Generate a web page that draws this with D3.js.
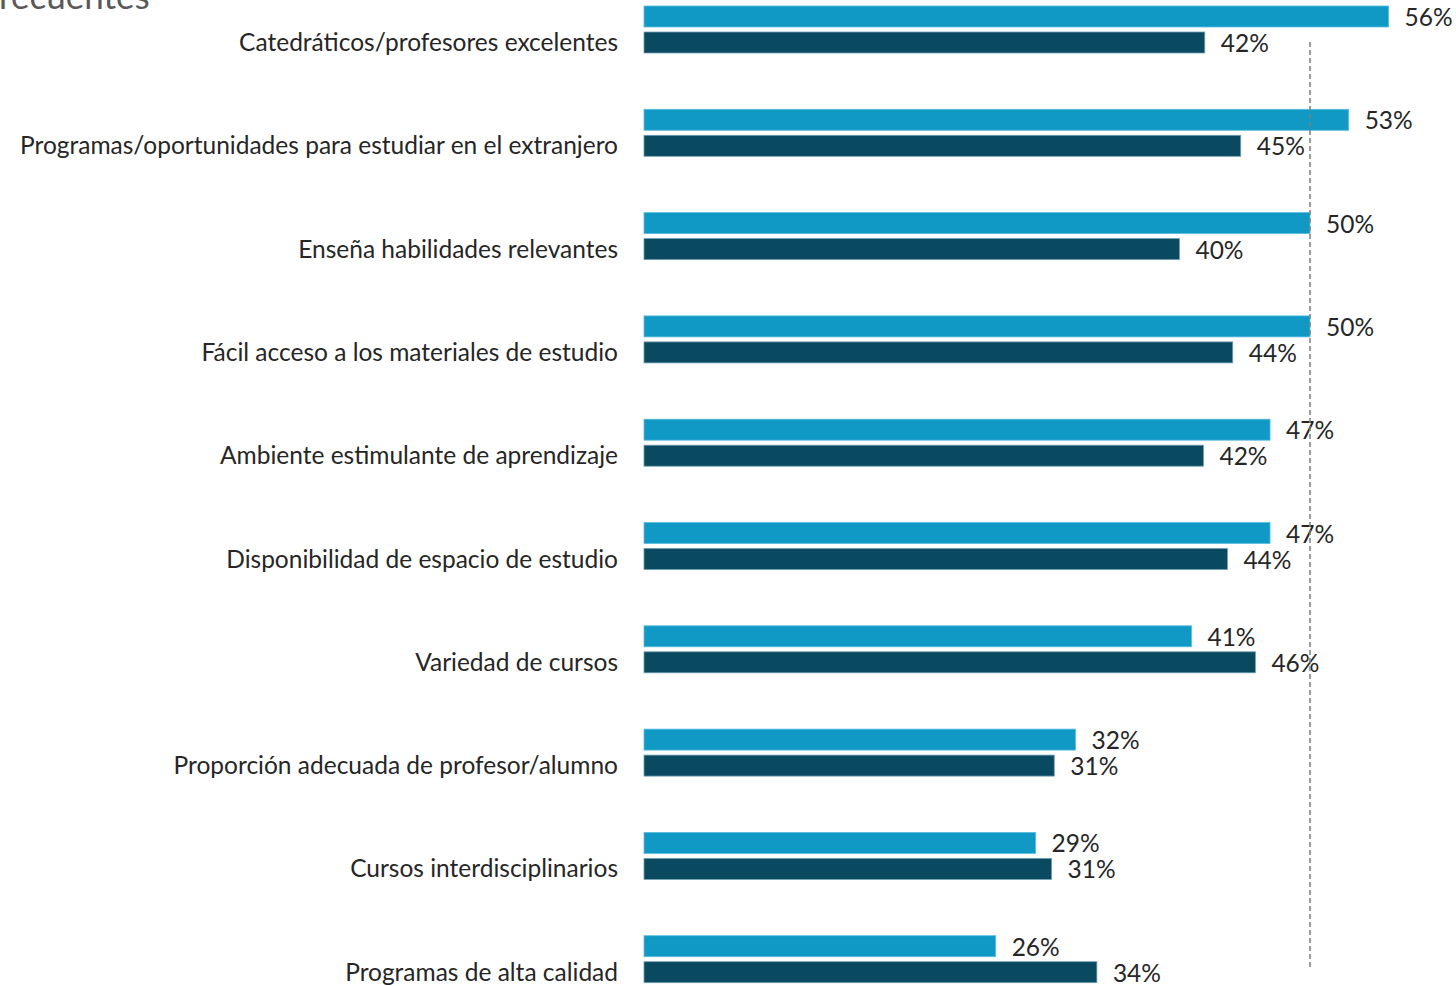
<!DOCTYPE html>
<html><head><meta charset="utf-8">
<script src="https://cdn.jsdelivr.net/npm/d3@7"></script>
<style>body{margin:0;background:#fff;} svg{display:block;}</style>
</head><body>
<svg id="c" width="1456" height="986"></svg>
<script>
const categories = [
  "Catedráticos/profesores excelentes",
  "Programas/oportunidades para estudiar en el extranjero",
  "Enseña habilidades relevantes",
  "Fácil acceso a los materiales de estudio",
  "Ambiente estimulante de aprendizaje",
  "Disponibilidad de espacio de estudio",
  "Variedad de cursos",
  "Proporción adecuada de profesor/alumno",
  "Cursos interdisciplinarios",
  "Programas de alta calidad"
];
// values; labels show the rounded percentages
const seriesA = [55.9, 52.9, 50.0, 50.0, 47.0, 47.0, 41.1, 32.4, 29.4, 26.4];
const seriesB = [42.1, 44.8, 40.2, 44.2, 42.0, 43.8, 45.9, 30.8, 30.6, 34.0];
const referenceValue = 50;
const titleText = "recuentes";

const svg = d3.select("#c");
const x = d3.scaleLinear().domain([0, 100]).range([644, 644 + 1332]);
const y = d3.scaleBand().domain(categories).range([6, 6 + 103.3 * 10]).paddingInner(0).paddingOuter(0);
const barH = 21, gap = 5;
const fontFam = "Lato, 'Open Sans', sans-serif";
const fs = 24.5;
const fmt = v => Math.round(v) + "%";

svg.append("text").attr("x", -1).attr("y", 9).attr("font-family", fontFam)
  .attr("font-size", 35).attr("fill", "#595959").text(titleText);

const g = svg.append("g");
categories.forEach((c, i) => {
  const y0 = y(c);
  g.append("rect").attr("x", x(0)).attr("y", y0).attr("width", x(seriesA[i]) - x(0)).attr("height", barH)
    .attr("fill", "#1199c6").attr("stroke", "#5bbde0").attr("stroke-width", 0.8);
  g.append("rect").attr("x", x(0)).attr("y", y0 + barH + gap).attr("width", x(seriesB[i]) - x(0)).attr("height", barH)
    .attr("fill", "#0a4a60").attr("stroke", "#6f9fb3").attr("stroke-width", 0.8);
  g.append("text").attr("x", x(seriesA[i]) + 16).attr("y", y0 + barH / 2 + 1).attr("dy", "0.35em")
    .attr("font-family", fontFam).attr("font-size", fs).attr("fill", "#262626").text(fmt(seriesA[i]));
  g.append("text").attr("x", x(seriesB[i]) + 16).attr("y", y0 + barH + gap + barH / 2 + 1).attr("dy", "0.35em")
    .attr("font-family", fontFam).attr("font-size", fs).attr("fill", "#262626").text(fmt(seriesB[i]));
  g.append("text").attr("x", 618).attr("y", y0 + barH + gap + barH / 2).attr("dy", "0.35em")
    .attr("text-anchor", "end").attr("font-family", fontFam).attr("font-size", fs).attr("fill", "#262626").text(c);
});

svg.append("line").attr("x1", x(referenceValue)).attr("x2", x(referenceValue))
  .attr("y1", 42).attr("y2", 970).attr("stroke", "#7f7f7f").attr("stroke-width", 1.5)
  .attr("stroke-dasharray", "5,3");
</script>
</body></html>
